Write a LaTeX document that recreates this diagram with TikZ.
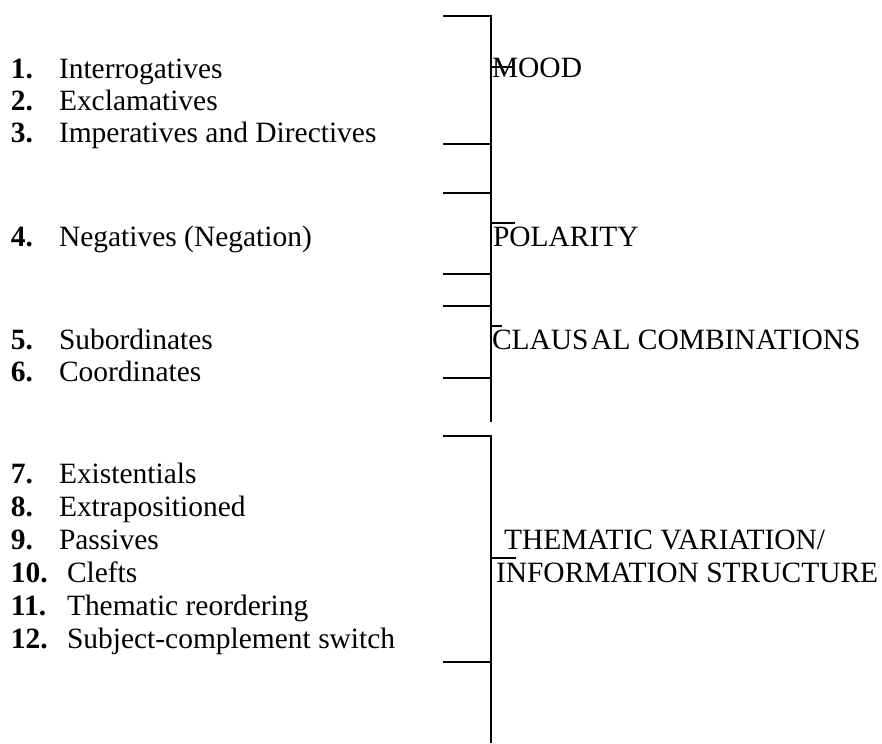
\documentclass[tikz,border=0pt]{standalone}
\usepackage{fontspec}
\setmainfont{Liberation Serif}
\begin{document}
\begin{tikzpicture}[x=0.75pt,y=-0.75pt,
  txt/.style={anchor=base west,inner sep=0pt,outer sep=0pt,font=\fontsize{22.1}{26}\selectfont},
  num/.style={txt,font=\fontsize{22.1}{26}\selectfont\bfseries},
  rule/.style={line width=1.5pt,line join=miter},
  nick/.style={line width=1.1pt}]
\useasboundingbox (0,0) rectangle (882,743);

% item list, left column
\node[num] (n1) at (11,78) {1.};   \node[txt] (t1) at (59,78) {Interrogatives};
\node[num] (n2) at (11,110) {2.};  \node[txt] (t2) at (59,110) {Exclamatives};
\node[num] (n3) at (11,142) {3.};  \node[txt] (t3) at (59,142) {Imperatives and Directives};
\node[num] (n4) at (11,246) {4.};  \node[txt] (t4) at (59,246) {Negatives (Negation)};
\node[num] (n5) at (11,349) {5.};  \node[txt] (t5) at (59,349) {Subordinates};
\node[num] (n6) at (11,381) {6.};  \node[txt] (t6) at (59,381) {Coordinates};
\node[num] (n7) at (11,483) {7.};  \node[txt] (t7) at (59,483) {Existentials};
\node[num] (n8) at (11,516) {8.};  \node[txt] (t8) at (59,516) {Extrapositioned};
\node[num] (n9) at (11,549) {9.};  \node[txt] (t9) at (59,549) {Passives};
\node[num] (n10) at (11,582) {10.}; \node[txt] (t10) at (67,582) {Clefts};
\node[num] (n11) at (11,615) {11.}; \node[txt] (t11) at (67,615) {Thematic reordering};
\node[num] (n12) at (11,648) {12.}; \node[txt] (t12) at (67,648) {Subject-complement switch};

% category labels, right column
\node[txt] (mood) at (492,77) {MOOD};
\node[txt] (pol) at (493,246) {POLARITY};
\node[txt] (clause) at (492,349) {CLAUS\kern2pt AL COMBINATIONS};
\node[txt] (them) at (504,549) {THEMATIC VARIATION/};
\node[txt] (info) at (496,582) {INFORMATION STRUCTURE};

% bracket spine coordinates
\coordinate (aTop) at (491,16);
\coordinate (aBot) at (491,422);
\coordinate (bTop) at (491,436);
\coordinate (bBot) at (491,743);

% upper bracket
\draw[rule] (443,16) -- (aTop) -- (aBot);
\foreach \yy in {144,193,274,306,378}
  \draw[rule] (443,\yy) -- (491,\yy);
\draw[nick] (491,67) -- (512,67);
\draw[nick] (491,223) -- (515,223);
\draw[nick] (491,326) -- (502,326);

% lower bracket
\draw[rule] (443,436) -- (bTop) -- (bBot);
\draw[rule] (443,662) -- (491,662);
\draw[nick] (491,558) -- (516,558);
\end{tikzpicture}
\end{document}
